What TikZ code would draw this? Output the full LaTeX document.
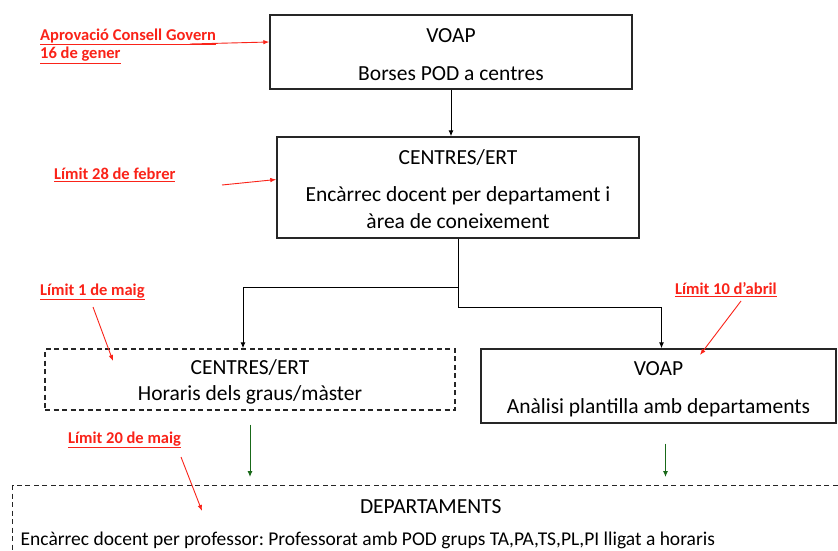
\documentclass[tikz,border=0pt]{standalone}
\usepackage{fontspec}
\setmainfont{Carlito}
\usepackage{xcolor}
\usetikzlibrary{arrows.meta}
\frenchspacing

\definecolor{notered}{RGB}{250,35,25}
\definecolor{flowgreen}{RGB}{25,105,25}

\tikzset{
  box/.style={draw=black!85, line width=1.4pt, align=center, inner sep=0pt,
    font=\fontsize{21.5}{26}\selectfont},
  dashbox/.style={box, dash pattern=on 5pt off 3.5pt},
  note/.style={text=notered, align=left, inner sep=0pt, anchor=west,
    font=\bfseries\fontsize{16.5}{18.5}\selectfont},
  notearrow/.style={-{Latex[length=6pt,width=4.5pt]}, notered, line width=0.9pt},
  flow/.style={-{Latex[length=6pt,width=5pt]}, black, line width=1pt},
  greenflow/.style={flow, flowgreen}
}

\begin{document}
\begin{tikzpicture}[x=1pt,y=1pt]
\clip (0,0) rectangle (838,-551);
\fill[white] (0,0) rectangle (838,-551);

% boxes
\node[box, minimum width=362pt, minimum height=74pt] (voapA) at (451,-52)
  {\rule{0pt}{20pt}VOAP\\[12pt]Borses POD a centres};
\node[box, minimum width=362pt, minimum height=101pt] (centresA) at (458,-187.5)
  {\rule{0pt}{18pt}CENTRES/ERT\\[11pt]Encàrrec docent per departament i\\[1pt]àrea de coneixement};
\node[dashbox, minimum width=410pt, minimum height=61pt] (horaris) at (250,-379.5)
  {\rule{0pt}{20pt}CENTRES/ERT\\Horaris dels graus/màster};
\node[box, minimum width=355pt, minimum height=74pt] (voapB) at (658.5,-386)
  {\rule{0pt}{20pt}VOAP\\[12pt]Anàlisi plantilla amb departaments};
\node[dashbox, anchor=north west, text width=820pt, align=flush left,
  inner xsep=8pt, inner ysep=14pt, text height=14pt, text depth=80pt] (depts) at (12,-485)
  {\makebox[\linewidth]{DEPARTAMENTS}\\[6pt]\mbox{\fontsize{19.5}{23}\selectfont Encàrrec docent per professor: Professorat amb POD grups TA,PA,TS,PL,PI lligat a horaris}};

% notes
\node[note] (gov) at (40,-46) {\underline{Aprovació Consell Govern}\\\underline{16 de gener}};
\node[note] (feb) at (54,-175) {\underline{Límit 28 de febrer}};
\node[note] (maig1) at (40,-292) {\underline{Límit 1 de maig}};
\node[note] (abril) at (675,-290) {\underline{Límit 10 d’abril}};
\node[note] (maig20) at (68,-440) {\underline{Límit 20 de maig}};

% flow
\coordinate (forkL) at (458,-287);
\coordinate (forkR) at (458,-307);
\draw[flow] (voapA.south) -- (voapA.south |- centresA.north);
\draw[flow] (centresA.south) -- (forkL) -| ([xshift=-7pt]horaris.north);
\draw[line width=1pt] (forkL) -- (forkR);
\draw[flow] (forkR) -| ([xshift=3pt]voapB.north);
\draw[greenflow, shorten <=14pt, shorten >=8pt] (horaris.south) -- (horaris.south |- depts.north);
\draw[greenflow, shorten <=20pt, shorten >=8pt] ([xshift=7pt]voapB.south) -- ([xshift=7pt]voapB.south |- depts.north);

% red pointers
\coordinate (govTail) at (190,-44);
\coordinate (febTail) at (222,-185);
\coordinate (maig1Tail) at (93,-307);
\coordinate (maig1Head) at (113,-361);
\coordinate (abrilTail) at (741,-301);
\coordinate (abrilHead) at (700,-355);
\coordinate (maig20Tail) at (181,-457);
\coordinate (maig20Head) at (202,-511);
\draw[notearrow] (govTail) -- ([yshift=10pt]voapA.west);
\draw[notearrow] (febTail) -- ([yshift=8pt]centresA.west);
\draw[notearrow] (maig1Tail) -- (maig1Head);
\draw[notearrow] (abrilTail) -- (abrilHead);
\draw[notearrow] (maig20Tail) -- (maig20Head);
\end{tikzpicture}
\end{document}
